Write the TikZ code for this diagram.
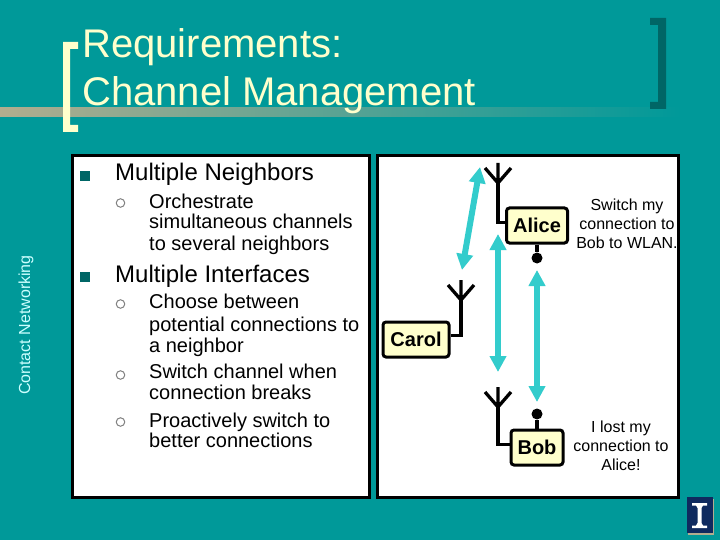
\documentclass[tikz,border=0pt]{standalone}
\usepackage{fontspec}
\setmainfont{Liberation Sans}
\usetikzlibrary{arrows.meta}
\definecolor{pTeal}{HTML}{009999}
\definecolor{pDark}{HTML}{006666}
\definecolor{pCream}{HTML}{FFFFCC}
\definecolor{pCyan}{HTML}{33CCCC}
\definecolor{pTan}{HTML}{B2AD8E}
\definecolor{pNavy}{HTML}{0F2A5F}
\definecolor{pPale}{HTML}{CCFFFF}
\newcommand{\px}[1]{\fontsize{#1}{#1}\selectfont}

\begin{document}
\begin{tikzpicture}[x=1pt,y=-1pt]
    \tikzset{
        antenna/.pic={
            \draw[line width=3.3pt] (0,-20) -- (0,0) (-13,-15) -- (0,0) -- (13,-15);
        },
        panel/.style={draw=black, fill=white, line width=3pt},
        station/.style={draw=black, fill=pCream, line width=3pt, rounded corners=3pt, inner sep=0pt, minimum height=35pt, font=\px{20}\bfseries},
        wire/.style={line width=3.3pt},
        dot/.style={circle, fill=black, inner sep=0pt, minimum size=11pt},
        link/.style={pCyan, line width=6pt, {Triangle[length=16pt,width=16pt]}-{Triangle[length=16pt,width=16pt]}},
        lefthead/.style={anchor=base west, font=\px{24}, inner sep=0pt},
        leftsub/.style={anchor=base west, font=\px{20}, inner sep=0pt},
        remark/.style={font=\px{16}, align=center},
        hollow/.style={circle, draw=gray, fill=white, line width=1pt, inner sep=0pt, minimum size=8.5pt},
        square/.style={fill=pDark, minimum size=10pt, inner sep=0pt},
    }
    \useasboundingbox (0,0) rectangle (720,540);
    \fill[pTeal] (0,0) rectangle (720,540);

    % title
    \shade[left color=pTan, right color=pTeal] (0,108) rectangle (680,117);
    \fill[pCream] (78,42) -- (63,42) -- (63,132) -- (78,132) -- (78,125) -- (70,125) -- (70,49) -- (78,49) -- cycle;
    \fill[pDark] (650,18) -- (666,18) -- (666,109) -- (650,109) -- (650,102) -- (658,102) -- (658,25) -- (650,25) -- cycle;
    \node[anchor=base west, inner sep=0pt, text=pCream, font=\px{40}] (title1) at (82,58) {Requirements:};
    \node[anchor=base west, inner sep=0pt, text=pCream, font=\px{40}] (title2) at (82,106) {Channel Management};

    \node[rotate=90, text=pPale, font=\px{16}] (sidebar) at (26,325) {Contact Networking};

    % panels
    \draw[panel] (72,156) rectangle (369,497);
    \draw[panel] (377,156) rectangle (678,497);

    % left text
    \node[square] (b1) at (85,176) {};
    \node[lefthead] (h1) at (115,181) {Multiple Neighbors};
    \node[hollow] (c1) at (120.5,203) {};
    \node[leftsub] (t1) at (149,208) {Orchestrate};
    \node[leftsub] (t2) at (149,229) {simultaneous channels};
    \node[leftsub] (t3) at (149,251) {to several neighbors};
    \node[square] (b2) at (85,277) {};
    \node[lefthead] (h2) at (115,282) {Multiple Interfaces};
    \node[hollow] (c2) at (120.5,304) {};
    \node[leftsub] (t4) at (149,308.5) {Choose between};
    \node[leftsub] (t5) at (149,331) {potential connections to};
    \node[leftsub] (t6) at (149,352) {a neighbor};
    \node[hollow] (c3) at (120.5,375) {};
    \node[leftsub] (t7) at (149,378.5) {Switch channel when};
    \node[leftsub] (t8) at (149,399.5) {connection breaks};
    \node[hollow] (c4) at (120.5,422) {};
    \node[leftsub] (t9) at (149,427) {Proactively switch to};
    \node[leftsub] (t10) at (149,447.5) {better connections};

    % stations
    \coordinate (aliceant) at (498,183);
    \coordinate (carolant) at (461,300);
    \coordinate (bobant) at (498,407);
    \node[station, minimum width=61pt] (alice) at (537,225.5) {Alice};
    \node[station, minimum width=66pt] (carol) at (416,339.5) {Carol};
    \node[station, minimum width=52pt] (bob) at (537,447.5) {Bob};
    \node[dot] (alicedot) at (537,258) {};
    \node[dot] (bobdot) at (537,414) {};
    \pic at (aliceant) {antenna};
    \pic at (carolant) {antenna};
    \pic at (bobant) {antenna};
    \draw[wire] ([yshift=3pt]alice.west) -| (aliceant);
    \draw[wire] ([yshift=4pt]carol.east) -| (carolant);
    \draw[wire] ([yshift=3pt]bob.west) -| (bobant);
    \draw[wire] (alice.south) -- (alicedot);
    \draw[wire] (bob.north) -- (bobdot);

    % links
    \coordinate (l1a) at (480,167);
    \coordinate (l1b) at (462,270);
    \coordinate (l2a) at (498,234);
    \coordinate (l2b) at (498,372);
    \coordinate (l3a) at (537,270);
    \coordinate (l3b) at (537,402);
    \draw[link] (l1a) -- (l1b);
    \draw[link] (l2a) -- (l2b);
    \draw[link] (l3a) -- (l3b);

    % remarks
    \node[remark] (rem1) at (627,224) {Switch my\\[3pt]connection to\\[3pt]Bob to WLAN.};
    \node[remark] (rem2) at (621,446) {I lost my\\[3pt]connection to\\[3pt]Alice!};

    % logo
    \fill[pTan] (688,499) rectangle (714,535);
    \fill[pNavy] (687,497) rectangle (713,533);
    \fill[white] (692,503) rectangle (707,505.5) (696,505.5) -- (703,505.5) -- (701.5,508) -- (701.5,523) -- (703,525.5) -- (696,525.5) -- (697.5,523) -- (697.5,508) -- cycle (692,525.5) rectangle (707,528);
\end{tikzpicture}
\end{document}
